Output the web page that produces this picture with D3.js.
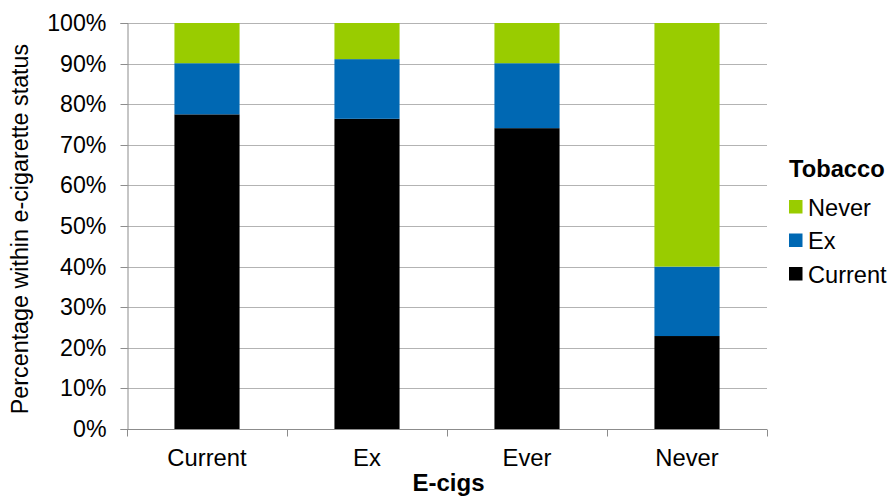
<!DOCTYPE html>
<html><head><meta charset="utf-8">
<script src="https://cdn.jsdelivr.net/npm/d3@7"></script>
<style>
html,body{margin:0;padding:0;background:#fff;}
svg{display:block;font-family:"Liberation Sans",Arial,sans-serif;}
</style></head>
<body>
<svg id="chart" width="893" height="501"></svg>
<script>
const categories = ["Current", "Ex", "Ever", "Never"];
const seriesNames = ["Current", "Ex", "Never"];
const currentVals = [77.5, 76.4, 74.1, 22.9];
const exVals = [12.6, 14.7, 16.0, 17.1];
const neverVals = [9.9, 8.9, 9.9, 60.0];
const yTicks = [0, 10, 20, 30, 40, 50, 60, 70, 80, 90, 100];
const colors = ["#000000", "#0068b3", "#99cc00"];

const rows = categories.map((c, i) => ({cat: c, Current: currentVals[i], Ex: exVals[i], Never: neverVals[i]}));
const stack = d3.stack().keys(seriesNames)(rows);

const svg = d3.select("#chart");
const pLeft = 127, pRight = 767, pTop = 23, pBottom = 429;
const x = d3.scaleBand().domain(categories).range([pLeft, pRight]).padding(0);
const y = d3.scaleLinear().domain([0, 100]).range([pBottom, pTop]);
const color = d3.scaleOrdinal().domain(seriesNames).range(colors);
const barW = x.bandwidth() * 0.407;

// gridlines
svg.append("g").selectAll("line").data(yTicks.filter(t => t > 0)).join("line")
  .attr("x1", pLeft).attr("x2", pRight)
  .attr("y1", d => Math.round(y(d)) + 0.5).attr("y2", d => Math.round(y(d)) + 0.5)
  .attr("stroke", "#b3b3b3").attr("stroke-width", 1);

// bars
svg.append("g").selectAll("g").data(stack).join("g")
  .attr("fill", d => color(d.key))
  .selectAll("rect").data(d => d).join("rect")
  .attr("x", d => x(d.data.cat) + (x.bandwidth() - barW) / 2)
  .attr("width", barW)
  .attr("y", d => y(d[1]))
  .attr("height", d => y(d[0]) - y(d[1]));

// y axis
const yAxis = d3.axisLeft(y).tickValues(yTicks).tickFormat(d => d + "%").tickSize(7).tickPadding(14);
const gy = svg.append("g").attr("transform", `translate(${pLeft + 0.5},0)`).call(yAxis);
gy.select(".domain").attr("stroke", "#8c8c8c");
gy.selectAll(".tick line").attr("stroke", "#8c8c8c");
gy.selectAll(".tick text").attr("font-size", 23.2).attr("fill", "#000").attr("font-family", "Liberation Sans, Arial, sans-serif");
gy.selectAll(".tick").attr("transform", d => `translate(0,${Math.round(y(d)) + 0.5})`);

// x axis
const gx = svg.append("g").attr("transform", `translate(0,${pBottom + 0.5})`);
gx.append("line").attr("x1", pLeft).attr("x2", pRight).attr("stroke", "#8c8c8c");
const boundaries = categories.map(c => x(c)).concat([pRight]);
gx.selectAll("line.tk").data(boundaries).join("line").attr("class", "tk")
  .attr("x1", d => Math.round(d) + 0.5).attr("x2", d => Math.round(d) + 0.5)
  .attr("y1", 0).attr("y2", 7).attr("stroke", "#8c8c8c");
gx.selectAll("text").data(categories).join("text")
  .attr("x", d => x(d) + x.bandwidth() / 2).attr("y", 36)
  .attr("text-anchor", "middle").attr("font-size", 23.8).attr("fill", "#000")
  .text(d => d);

// axis titles
svg.append("text").attr("x", 448.5).attr("y", 491).attr("text-anchor", "middle")
  .attr("font-size", 24).attr("font-weight", "bold").text("E-cigs");
svg.append("text").attr("transform", "translate(28,229) rotate(-90)").attr("text-anchor", "middle")
  .attr("font-size", 23.3).text("Percentage within e-cigarette status");

// legend
const lg = svg.append("g");
lg.append("text").attr("x", 789).attr("y", 177).attr("font-size", 23.7).attr("font-weight", "bold").text("Tobacco");
const legendOrder = ["Never", "Ex", "Current"];
const li = lg.selectAll("g.li").data(legendOrder).join("g").attr("class", "li")
  .attr("transform", (d, i) => `translate(789,${200 + i * 33.5})`);
li.append("rect").attr("width", 13.5).attr("height", 13.5).attr("fill", d => color(d));
li.append("text").attr("x", 19).attr("y", 15.5).attr("font-size", 23.6).text(d => d);
</script>
</body></html>
